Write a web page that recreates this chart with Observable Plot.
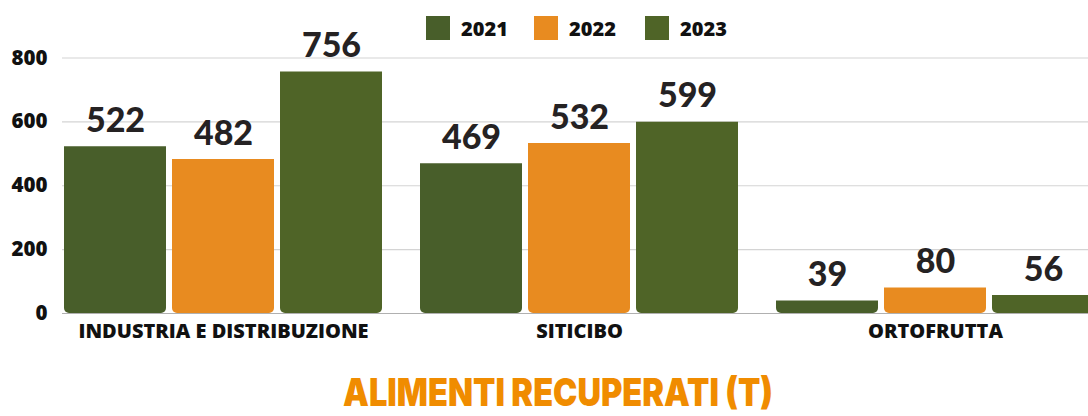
<!DOCTYPE html>
<html><head><meta charset="utf-8">
<script src="https://cdn.jsdelivr.net/npm/d3@7"></script>
<script src="https://cdn.jsdelivr.net/npm/@observablehq/plot@0.6"></script>
<style>
html,body{margin:0;padding:0;background:#fff;overflow:hidden;width:1088px;height:416px;}
#wrap{position:relative;width:1088px;height:416px;overflow:hidden;}
#grid,#chart{position:absolute;top:0;left:0;width:1100px;}
#grid svg,#chart svg{max-width:none !important;}
#legend{position:absolute;top:0;left:0;width:1088px;height:56px;font-family:"Open Sans",sans-serif;font-weight:800;font-size:20px;color:#111;}
.li{position:absolute;top:16px;display:flex;align-items:center;height:24px;}
.sw{width:24px;height:24px;margin-right:11px;}
#title{position:absolute;left:0;top:362px;width:1088px;height:54px;}
</style></head>
<body><div id="wrap"><div id="grid"></div><div id="chart"></div><div id="legend"></div><div id="title"></div></div>
<script>
const categories = ["INDUSTRIA E DISTRIBUZIONE", "SITICIBO", "ORTOFRUTTA"];
const years = ["2021", "2022", "2023"];
const values2021 = [522, 469, 39];
const values2022 = [482, 532, 80];
const values2023 = [756, 599, 56];
const yTicks = [0, 200, 400, 600, 800];
const colors = ["#485e2a", "#e88b20", "#4f6427"];
const titleText = "ALIMENTI RECUPERATI (T)";

const series = [values2021, values2022, values2023];
const data = [];
categories.forEach((c, i) => years.forEach((y, j) => data.push({cat: c, year: y, value: series[j][i]})));

const dims = {width: 1100, height: 350, marginLeft: 62, marginRight: 3, marginTop: 57.5, marginBottom: 37};

const grid = Plot.plot({
  ...dims,
  style: {background: "transparent", maxWidth: "none"},
  x: {axis: null},
  y: {domain: [0, 800], axis: null},
  marks: [
    Plot.ruleY(yTicks.slice(1), {stroke: "#d4d4d4", strokeWidth: 1.2}),
    Plot.ruleY([0], {stroke: "#b0b0b0", strokeWidth: 1.2})
  ]
});
document.getElementById("grid").appendChild(grid);

const plot = Plot.plot({
  ...dims,
  style: {fontFamily: "'Open Sans', sans-serif", background: "transparent", maxWidth: "none"},
  fx: {domain: categories, paddingInner: 0.1, paddingOuter: 0, label: null, axis: null},
  x: {domain: years, paddingInner: 0.055, paddingOuter: 0, axis: null},
  y: {domain: [0, 800], label: null},
  color: {domain: years, range: colors},
  marks: [
    Plot.axisY({ticks: yTicks, tickSize: 0, tickPadding: 16, fontSize: 20.5, fontWeight: 800, fill: "#111", label: null}),
    Plot.axisFx({anchor: "bottom", tickSize: 0, tickPadding: 10, fontSize: 20, fontWeight: 800, fill: "#111", label: null}),
    Plot.barY(data, {fx: "cat", x: "year", y: "value", fill: "year", ry2: 5, rx: 5}),
    Plot.text(data, {fx: "cat", x: "year", y: "value", text: d => String(d.value), dy: -15, lineAnchor: "bottom",
      fontSize: 34, fontWeight: 900, fontFamily: "Lato, sans-serif", fill: "#252223"})
  ]
});
document.getElementById("chart").appendChild(plot);

const legend = document.getElementById("legend");
const lefts = [426, 534, 645];
years.forEach((y, i) => {
  const d = document.createElement("div");
  d.className = "li"; d.style.left = lefts[i] + "px";
  d.innerHTML = `<div class="sw" style="background:${colors[i]}"></div><span>${y}</span>`;
  legend.appendChild(d);
});

document.getElementById("title").innerHTML =
  `<svg width="1088" height="54"><text x="343" y="44" textLength="430" lengthAdjust="spacingAndGlyphs" font-family="Inter, sans-serif" font-weight="900" font-size="38" fill="#f08c00">${titleText}</text></svg>`;
</script></body></html>
